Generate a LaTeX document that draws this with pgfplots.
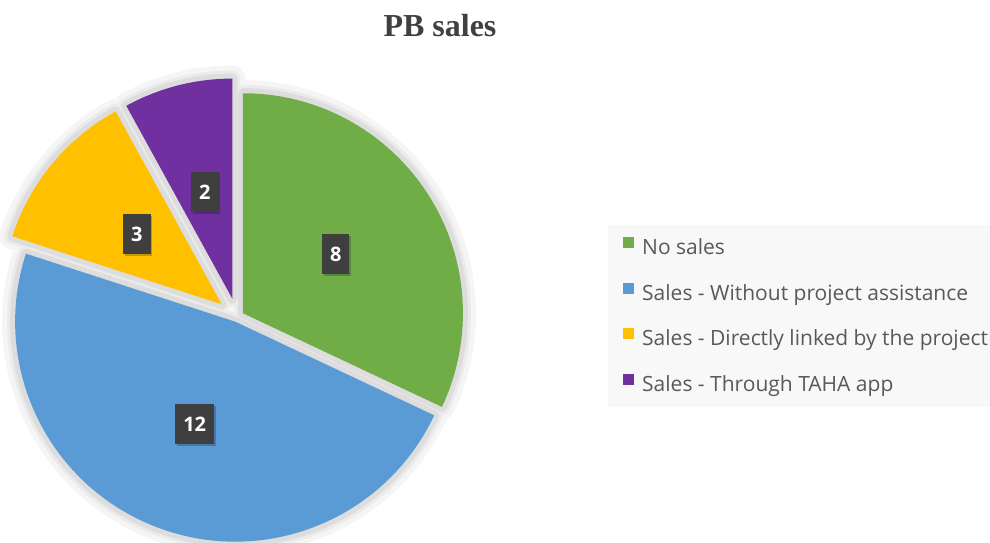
\documentclass[border=0pt]{standalone}
\usepackage{pgfplots}
\usepackage{pgfplotstable}
\pgfplotsset{compat=1.18}
\usepackage{fontspec}
\setmainfont{Open Sans}
\newfontfamily\titlefont{Liberation Serif}
\usetikzlibrary{shadows}

\definecolor{cNo}{HTML}{70AD47}
\definecolor{cWithout}{HTML}{5B9BD5}
\definecolor{cDirect}{HTML}{FFC000}
\definecolor{cTaha}{HTML}{7030A0}
\definecolor{shA}{HTML}{F5F5F5}
\definecolor{shB}{HTML}{EBEBEB}
\definecolor{shC}{HTML}{DDDDDD}
\definecolor{legbg}{HTML}{F8F8F8}
\definecolor{legtext}{HTML}{595959}
\definecolor{titlecol}{HTML}{404040}
\definecolor{labbg}{HTML}{3F3F3F}

\tikzset{lab/.style={fill=labbg, text=white, font=\bfseries\fontsize{20}{24}\selectfont,
    inner xsep=8pt, inner ysep=0pt, minimum height=40pt,
    drop shadow={shadow xshift=1.5pt, shadow yshift=-2pt, fill=black, opacity=0.22}}}

% value = number of PB, explode = offset of the slice (pt)
\pgfplotstableread{
value explode
8  7
12 5
3  20
2  19
}\piedata

\def\pcx{237}\def\pcy{225}\def\prad{220}
\newcommand\getrow[2]{%
  \pgfplotstablegetelem{#1}{value}\of\piedata
  \expandafter\xdef\csname val#2\endcsname{\pgfplotsretval}%
  \pgfplotstablegetelem{#1}{explode}\of\piedata
  \expandafter\xdef\csname ex#2\endcsname{\pgfplotsretval}%
}
\getrow{0}{A}\getrow{1}{B}\getrow{2}{C}\getrow{3}{D}
\pgfmathsetmacro\ptotal{\valA+\valB+\valC+\valD}
\xdef\pcum{90}
\newcommand\angrow[1]{%
  \pgfmathsetmacro\tmpS{\pcum}%
  \pgfmathsetmacro\tmpE{\pcum-360*\csname val#1\endcsname/\ptotal}%
  \pgfmathsetmacro\tmpB{(\tmpS+\tmpE)/2}%
  \pgfmathsetmacro\tmpEx{\csname ex#1\endcsname}%
  \pgfmathsetmacro\tmpVX{\pcx+\tmpEx*cos(\tmpB)}%
  \pgfmathsetmacro\tmpVY{\pcy+\tmpEx*sin(\tmpB)}%
  \pgfmathsetmacro\tmpLX{\pcx+(\tmpEx+0.5*\prad)*cos(\tmpB)}%
  \pgfmathsetmacro\tmpLY{\pcy+(\tmpEx+0.5*\prad)*sin(\tmpB)}%
  \expandafter\xdef\csname s#1\endcsname{\tmpS}%
  \expandafter\xdef\csname e#1\endcsname{\tmpE}%
  \expandafter\xdef\csname vx#1\endcsname{\tmpVX}%
  \expandafter\xdef\csname vy#1\endcsname{\tmpVY}%
  \expandafter\xdef\csname lx#1\endcsname{\tmpLX}%
  \expandafter\xdef\csname ly#1\endcsname{\tmpLY}%
  \xdef\pcum{\tmpE}%
}
\angrow{A}\angrow{B}\angrow{C}\angrow{D}

\newcommand\slice[2]{%
  \edef\slicetmp{\noexpand\path[#2] (axis cs:\csname vx#1\endcsname,\csname vy#1\endcsname)
    -- ++(\csname s#1\endcsname:\prad pt)
    arc[start angle=\csname s#1\endcsname, end angle=\csname e#1\endcsname, radius=\prad pt] -- cycle;}%
  \slicetmp
}
\newcommand\slabel[1]{%
  \edef\slicetmp{\noexpand\node[lab] at (axis cs:\csname lx#1\endcsname,\csname ly#1\endcsname) {\csname val#1\endcsname};}%
  \slicetmp
}

\begin{document}
\begin{tikzpicture}
\begin{axis}[
  width=990pt, height=542pt, scale only axis,
  xmin=0, xmax=990, ymin=0, ymax=542,
  hide axis, clip=false,
  legend image code/.code={\fill[#1] (0pt,1pt) rectangle (11pt,12pt);},
  legend cell align=left,
  legend style={
    at={(0.61414,0.58487)}, anchor=north west,
    fill=legbg, draw=none,
    inner xsep=15pt, inner ysep=12pt,
    font=\fontsize{21}{25}\selectfont, text=legtext,
    row sep=24pt, column sep=8pt,
    nodes={inner sep=0pt, text height=15pt, text depth=4pt},
  },
]
\coordinate (LL) at (axis cs:0,0);
\coordinate (UR) at (axis cs:990,542);

% soft shadow / gap layers
\slice{A}{fill=shA, draw=shA, line width=26pt, line join=round}
\slice{B}{fill=shA, draw=shA, line width=26pt, line join=round}
\slice{C}{fill=shA, draw=shA, line width=26pt, line join=round}
\slice{D}{fill=shA, draw=shA, line width=26pt, line join=round}
\slice{A}{fill=shB, draw=shB, line width=16pt, line join=round}
\slice{B}{fill=shB, draw=shB, line width=16pt, line join=round}
\slice{C}{fill=shB, draw=shB, line width=16pt, line join=round}
\slice{D}{fill=shB, draw=shB, line width=16pt, line join=round}
\slice{A}{fill=shC, draw=shC, line width=10pt, line join=round}
\slice{B}{fill=shC, draw=shC, line width=10pt, line join=round}
\slice{C}{fill=shC, draw=shC, line width=10pt, line join=round}
\slice{D}{fill=shC, draw=shC, line width=10pt, line join=round}
% slices
\slice{A}{fill=cNo}
\slice{B}{fill=cWithout}
\slice{C}{fill=cDirect}
\slice{D}{fill=cTaha}
% data labels
\slabel{A}\slabel{B}\slabel{C}\slabel{D}

\node[anchor=base, font=\titlefont\bfseries\fontsize{32}{38}\selectfont, text=titlecol]
  at (axis cs:440,505) {PB sales};

\addlegendimage{fill=cNo, draw=none}
\addlegendentry{No sales}
\addlegendimage{fill=cWithout, draw=none}
\addlegendentry{Sales - Without project assistance}
\addlegendimage{fill=cDirect, draw=none}
\addlegendentry{Sales - Directly linked by the project}
\addlegendimage{fill=cTaha, draw=none}
\addlegendentry{Sales - Through TAHA app}
\end{axis}
\pgfresetboundingbox
\path[use as bounding box] (LL) rectangle (UR);
\end{tikzpicture}
\end{document}
